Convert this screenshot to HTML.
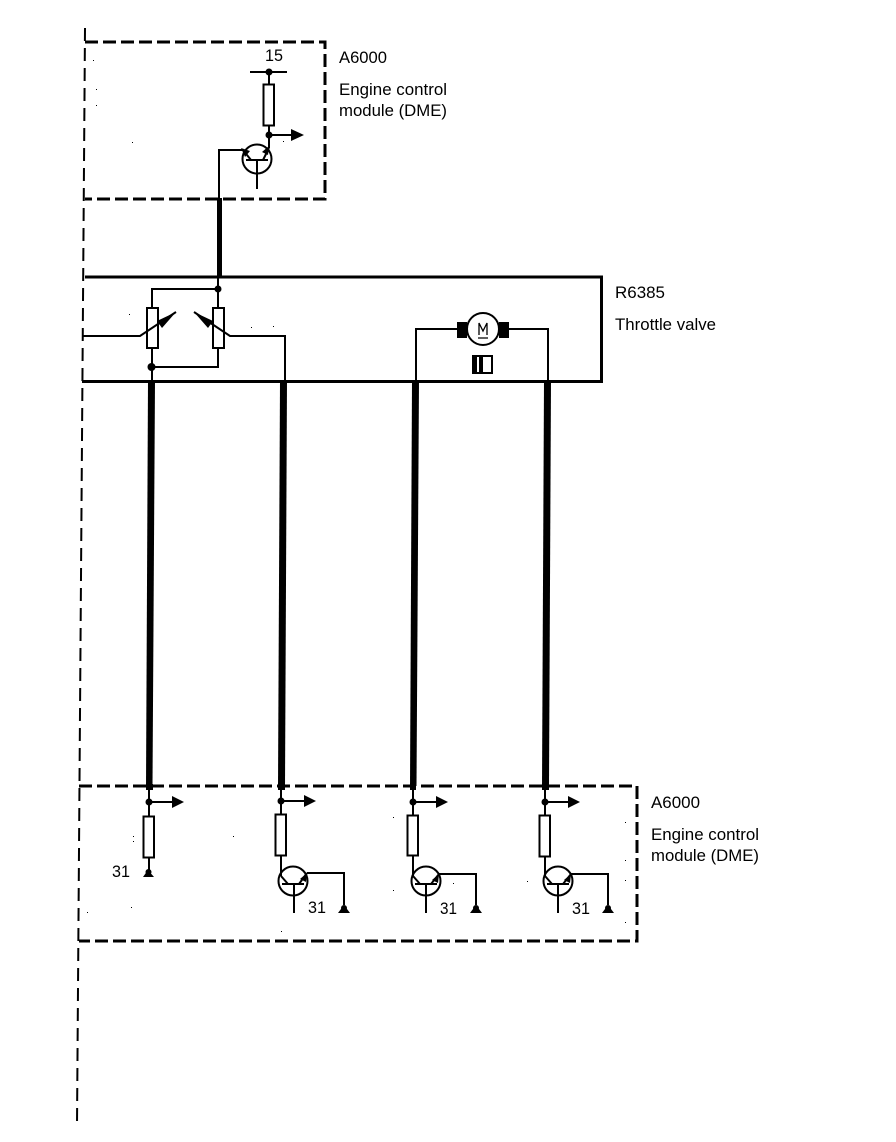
<!DOCTYPE html>
<html>
<head>
<meta charset="utf-8">
<style>
html,body{margin:0;padding:0;background:#fff;}
svg{display:block;}
text{font-family:"Liberation Sans",sans-serif;font-size:16.5px;fill:#000;}
</style>
</head>
<body>
<svg width="896" height="1142" viewBox="0 0 896 1142" xmlns="http://www.w3.org/2000/svg">
<rect width="896" height="1142" fill="#fff"/>
<!-- left dashed -->
<path d="M85 28L77 1125" stroke="#000" stroke-width="2" fill="none" stroke-dasharray="13 7"/>
<!-- dashed boxes -->
<g shape-rendering="crispEdges">
<path d="M85 42H325V199H85" stroke="#000" stroke-width="3" fill="none" stroke-dasharray="13 5"/>
<path d="M79 786H637V941H79" stroke="#000" stroke-width="3" fill="none" stroke-dasharray="13 5"/>
<!-- top module -->
<path d="M250 72H287" stroke="#000" stroke-width="2"/>
<path d="M269 72V84M269 126V148" stroke="#000" stroke-width="2"/>
<rect x="263.500" y="84.500" width="10.500" height="41" fill="#fff" stroke="#000" stroke-width="2"/>
<path d="M269 135H294" stroke="#000" stroke-width="2"/>
<path d="M219 199V150H243" stroke="#000" stroke-width="2" fill="none"/>
<path d="M246 160H268M257 160V189" stroke="#000" stroke-width="2"/>
<rect x="217" y="198" width="5" height="79" fill="#000"/>
<!-- throttle box -->
<path d="M85 277H601.500V381.500H82" stroke="#000" stroke-width="3" fill="none"/>
<!-- pots -->
<path d="M218 277V308M152 308V289H218M152 348V381M218 348V367H151" stroke="#000" stroke-width="2" fill="none"/>
<rect x="147" y="308" width="11" height="40" fill="#fff" stroke="#000" stroke-width="2"/>
<rect x="213" y="308" width="11" height="40" fill="#fff" stroke="#000" stroke-width="2"/>
<rect x="147" y="307" width="11" height="2" fill="#000"/>
<!-- motor -->
<path d="M416 381V329H457M509 329H548V381" stroke="#000" stroke-width="2" fill="none"/>
<rect x="457" y="322" width="10" height="16" fill="#000"/>
<rect x="499" y="322" width="10" height="16" fill="#000"/>
<rect x="472" y="355" width="21" height="19" fill="#000"/>
<rect x="483" y="357" width="8" height="15" fill="#fff"/>
<rect x="477" y="357" width="2" height="15" fill="#fff"/>
<!-- stubs -->
<rect x="146" y="784" width="7" height="6" fill="#000"/>
<rect x="278" y="784" width="7" height="6" fill="#000"/>
<rect x="410" y="784" width="6" height="6" fill="#000"/>
<rect x="542" y="784" width="7" height="6" fill="#000"/>
<!-- column wires -->
<path d="M149 788V816M149 858V872M149 802H174" stroke="#000" stroke-width="2" fill="none"/>
<rect x="143.500" y="816.500" width="10.500" height="41" fill="#fff" stroke="#000" stroke-width="2"/>
<path d="M281 788V814M281 855V876M281 801H306" stroke="#000" stroke-width="2" fill="none"/>
<rect x="275.500" y="814.500" width="10.500" height="41" fill="#fff" stroke="#000" stroke-width="2"/>
<path d="M282 884H304M294 884V913M307 873H344V905" stroke="#000" stroke-width="2" fill="none"/>
<path d="M413 788V815M413 855V876M413 802H438" stroke="#000" stroke-width="2" fill="none"/>
<rect x="407.500" y="815.500" width="10.500" height="40" fill="#fff" stroke="#000" stroke-width="2"/>
<path d="M415 884H437M426 884V913M439 874H476V905" stroke="#000" stroke-width="2" fill="none"/>
<path d="M545 788V815M545 856V876M545 802H570" stroke="#000" stroke-width="2" fill="none"/>
<rect x="539.500" y="815.500" width="10.500" height="41" fill="#fff" stroke="#000" stroke-width="2"/>
<path d="M547 884H569M558 884V913M571 874H608V905" stroke="#000" stroke-width="2" fill="none"/>
<!-- specks -->
<path d="M93 60h1v1h-1zM96 89h1v1h-1zM96 105h1v1h-1zM132 142h1v1h-1zM283 141h1v1h-1zM129 314h1v1h-1zM251 327h1v1h-1zM273 326h1v1h-1zM133 836h1v1h-1zM133 841h1v1h-1zM233 836h1v1h-1zM87 912h1v1h-1zM131 907h1v1h-1zM281 931h1v1h-1zM393 817h1v1h-1zM393 890h1v1h-1zM453 883h1v1h-1zM625 822h1v1h-1zM625 860h1v1h-1zM625 880h1v1h-1zM625 922h1v1h-1zM527 881h1v1h-1z" fill="#000"/>
</g>
<!-- thick wires -->
<path d="M148 381H155L152.500 786H146Z" fill="#000"/>
<path d="M280 381H287L285 786H278Z" fill="#000"/>
<path d="M412 381H419L416.500 786H410Z" fill="#000"/>
<path d="M544 381H551L549 786H542Z" fill="#000"/>
<!-- top module details -->
<circle cx="269" cy="72" r="3.500" fill="#000"/>
<circle cx="269" cy="135" r="3.500" fill="#000"/>
<path d="M291 129L304 135L291 141Z" fill="#000"/>
<circle cx="257" cy="159" r="14.500" fill="none" stroke="#000" stroke-width="2"/>
<path d="M243 150L251 160M269 148L263 160" stroke="#000" stroke-width="2" fill="none"/>
<path d="M241 148L250 151L245 157Z" fill="#000"/>
<path d="M269 146L268 155L262 152Z" fill="#000"/>
<!-- pots details -->
<circle cx="218" cy="289" r="3.500" fill="#000"/>
<circle cx="151.500" cy="367" r="4" fill="#000"/>
<path d="M83 336H140L176 312" stroke="#000" stroke-width="2" fill="none"/>
<path d="M176 312L157 321L162 328Z" fill="#000"/>
<path d="M285 381V336H230L194 312" stroke="#000" stroke-width="2" fill="none"/>
<path d="M194 312L213 321L208 328Z" fill="#000"/>
<!-- motor details -->
<circle cx="483" cy="329" r="16" fill="#fff" stroke="#000" stroke-width="2"/>
<path d="M479 335V323L483 331L487 323V335M478 338H488" stroke="#000" stroke-width="1.300" fill="none"/>
<!-- column 1 -->
<circle cx="149" cy="802" r="3.500" fill="#000"/>
<path d="M172 796L184 802L172 808Z" fill="#000"/>
<circle cx="148.500" cy="872" r="3" fill="#000"/>
<path d="M143 877L148 870L154 877Z" fill="#000"/>
<!-- column 2 -->
<circle cx="281" cy="801" r="3.500" fill="#000"/>
<path d="M304 795L316 801L304 807Z" fill="#000"/>
<circle cx="293" cy="881" r="14.500" fill="none" stroke="#000" stroke-width="2"/>
<path d="M281 876L288 884M299 884L307 873" stroke="#000" stroke-width="2" fill="none"/>
<path d="M307 873L306 882L300 879Z" fill="#000"/>
<circle cx="344" cy="908" r="3" fill="#000"/>
<path d="M338 913L344 905L350 913Z" fill="#000"/>
<!-- column 3 -->
<circle cx="413" cy="802" r="3.500" fill="#000"/>
<path d="M436 796L448 802L436 808Z" fill="#000"/>
<circle cx="426" cy="881" r="14.500" fill="none" stroke="#000" stroke-width="2"/>
<path d="M413 876L420 884M431 884L439 874" stroke="#000" stroke-width="2" fill="none"/>
<path d="M439 874L438 883L432 880Z" fill="#000"/>
<circle cx="476" cy="908" r="3" fill="#000"/>
<path d="M470 913L476 905L482 913Z" fill="#000"/>
<!-- column 4 -->
<circle cx="545" cy="802" r="3.500" fill="#000"/>
<path d="M568 796L580 802L568 808Z" fill="#000"/>
<circle cx="558" cy="881" r="14.500" fill="none" stroke="#000" stroke-width="2"/>
<path d="M545 876L552 884M563 884L571 874" stroke="#000" stroke-width="2" fill="none"/>
<path d="M571 874L570 883L564 880Z" fill="#000"/>
<circle cx="608" cy="908" r="3" fill="#000"/>
<path d="M602 913L608 905L614 913Z" fill="#000"/>
<!-- labels -->
<text x="265" y="61" textLength="18" lengthAdjust="spacingAndGlyphs">15</text>
<text x="339" y="63" textLength="48" lengthAdjust="spacingAndGlyphs">A6000</text>
<text x="339" y="95" textLength="108" lengthAdjust="spacingAndGlyphs">Engine control</text>
<text x="339" y="116" textLength="108" lengthAdjust="spacingAndGlyphs">module (DME)</text>
<text x="615" y="298" textLength="50" lengthAdjust="spacingAndGlyphs">R6385</text>
<text x="615" y="330" textLength="101" lengthAdjust="spacingAndGlyphs">Throttle valve</text>
<text x="651" y="808" textLength="49" lengthAdjust="spacingAndGlyphs">A6000</text>
<text x="651" y="840" textLength="108" lengthAdjust="spacingAndGlyphs">Engine control</text>
<text x="651" y="861" textLength="108" lengthAdjust="spacingAndGlyphs">module (DME)</text>
<text x="112" y="877" textLength="18" lengthAdjust="spacingAndGlyphs">31</text>
<text x="308" y="913" textLength="18" lengthAdjust="spacingAndGlyphs">31</text>
<text x="440" y="914" textLength="17" lengthAdjust="spacingAndGlyphs">31</text>
<text x="572" y="914" textLength="18" lengthAdjust="spacingAndGlyphs">31</text>
</svg>
</body>
</html>
